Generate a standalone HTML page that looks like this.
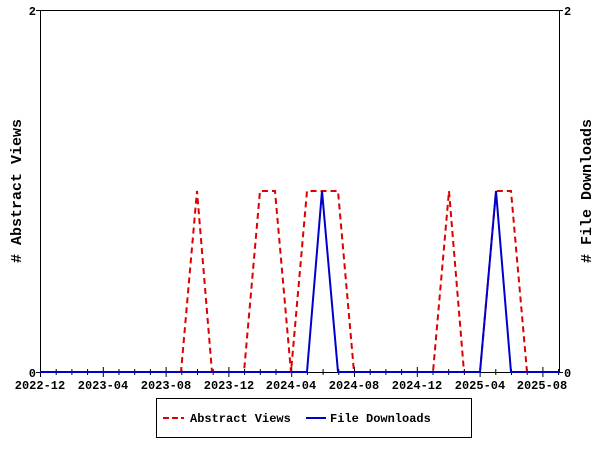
<!DOCTYPE html>
<html><head><style>body{margin:0;background:#fff}svg text{font-family:"Liberation Mono","DejaVu Sans Mono",monospace;font-weight:bold;font-size:12px;fill:#000}</style></head>
<body>
<svg width="600" height="450" xmlns="http://www.w3.org/2000/svg">
<rect x="40.5" y="10.5" width="519" height="362" fill="none" stroke="#000"/>
<g stroke="#000">
<line x1="40.5" x2="40.5" y1="367" y2="377"/><line x1="56.2" x2="56.2" y1="369" y2="375"/><line x1="71.9" x2="71.9" y1="369" y2="375"/><line x1="87.6" x2="87.6" y1="369" y2="375"/>
<line x1="103.3" x2="103.3" y1="367" y2="377"/><line x1="119" x2="119" y1="369" y2="375"/><line x1="134.7" x2="134.7" y1="369" y2="375"/><line x1="150.4" x2="150.4" y1="369" y2="375"/>
<line x1="166.1" x2="166.1" y1="367" y2="377"/><line x1="181.8" x2="181.8" y1="369" y2="375"/><line x1="197.5" x2="197.5" y1="369" y2="375"/><line x1="213.2" x2="213.2" y1="369" y2="375"/>
<line x1="228.9" x2="228.9" y1="367" y2="377"/><line x1="244.6" x2="244.6" y1="369" y2="375"/><line x1="260.3" x2="260.3" y1="369" y2="375"/><line x1="276" x2="276" y1="369" y2="375"/>
<line x1="291.7" x2="291.7" y1="367" y2="377"/><line x1="307.4" x2="307.4" y1="369" y2="375"/><line x1="323.1" x2="323.1" y1="369" y2="375"/><line x1="338.8" x2="338.8" y1="369" y2="375"/>
<line x1="354.5" x2="354.5" y1="367" y2="377"/><line x1="370.2" x2="370.2" y1="369" y2="375"/><line x1="385.9" x2="385.9" y1="369" y2="375"/><line x1="401.6" x2="401.6" y1="369" y2="375"/>
<line x1="417.3" x2="417.3" y1="367" y2="377"/><line x1="433" x2="433" y1="369" y2="375"/><line x1="448.7" x2="448.7" y1="369" y2="375"/><line x1="464.4" x2="464.4" y1="369" y2="375"/>
<line x1="480.1" x2="480.1" y1="367" y2="377"/><line x1="495.8" x2="495.8" y1="369" y2="375"/><line x1="511.5" x2="511.5" y1="369" y2="375"/><line x1="527.2" x2="527.2" y1="369" y2="375"/>
<line x1="542.9" x2="542.9" y1="367" y2="377"/><line x1="558.6" x2="558.6" y1="369" y2="375"/>
<line x1="36" y1="10.5" x2="40" y2="10.5"/><line x1="36" y1="372.5" x2="40" y2="372.5"/>
<line x1="559" y1="10.5" x2="563" y2="10.5"/><line x1="559" y1="372.5" x2="563" y2="372.5"/>
</g>
<text x="36" y="15" text-anchor="end">2</text>
<text x="36" y="377" text-anchor="end">0</text>
<text x="564" y="15">2</text>
<text x="564" y="377">0</text>
<text transform="translate(21,191) rotate(-90)" text-anchor="middle" style="font-size:15px"># Abstract Views</text>
<text transform="translate(591,191) rotate(-90)" text-anchor="middle" style="font-size:15px"># File Downloads</text>
<g text-anchor="middle">
<text x="40" y="389">2022-12</text><text x="103" y="389">2023-04</text><text x="166" y="389">2023-08</text><text x="229" y="389">2023-12</text><text x="291" y="389">2024-04</text><text x="354" y="389">2024-08</text><text x="417" y="389">2024-12</text><text x="480" y="389">2025-04</text><text x="542" y="389">2025-08</text>
</g>
<polyline fill="none" stroke="#dd0000" stroke-width="2" stroke-dasharray="6,4" points="40,372 181,372 197,191 212,372 244,372 260,191 275,191 291,372 307,191 338,191 354,372 433,372 449,191 464,372 480,372 496,191 511,191 527,372 559,372"/>
<polyline fill="none" stroke="#0000cc" stroke-width="2" points="40,372 307,372 322,191 338,372 480,372 496,191 511,372 559,372"/>
<rect x="156.5" y="398.5" width="315" height="39" fill="#fff" stroke="#000"/>
<line x1="163" y1="418" x2="184" y2="418" stroke="#dd0000" stroke-width="2" stroke-dasharray="6,3"/>
<text x="190" y="422">Abstract Views</text>
<line x1="306" y1="418" x2="326" y2="418" stroke="#0000cc" stroke-width="2"/>
<text x="330" y="422">File Downloads</text>
</svg>
</body></html>
